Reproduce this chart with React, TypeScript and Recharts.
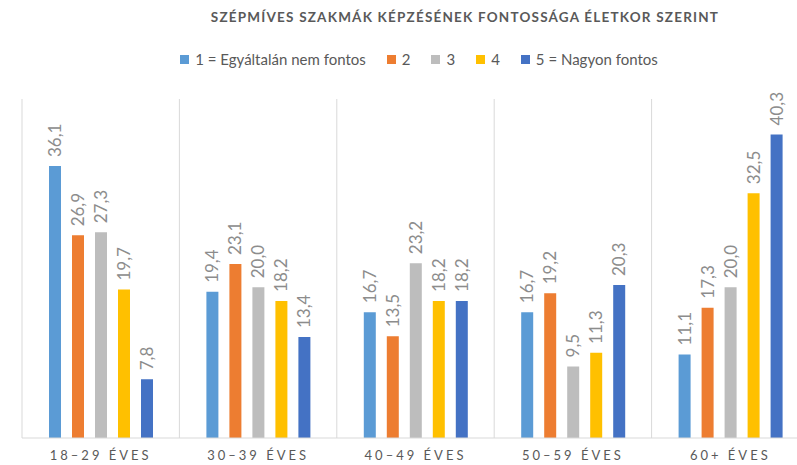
import React from "react"
import { BarChart, Bar, XAxis, YAxis, CartesianGrid, LabelList } from "recharts"

const ageGroups = ["18–29 ÉVES", "30–39 ÉVES", "40–49 ÉVES", "50–59 ÉVES", "60+ ÉVES"]
const ratingNames = ["1 = Egyáltalán nem fontos", "2", "3", "4", "5 = Nagyon fontos"]
const ratingColors = ["#5B9BD5", "#ED7D31", "#BDBDBD", "#FFC000", "#4472C4"]

const rating1 = [36.1, 19.4, 16.7, 16.7, 11.1]
const rating2 = [26.9, 23.1, 13.5, 19.2, 17.3]
const rating3 = [27.3, 20.0, 23.2, 9.5, 20.0]
const rating4 = [19.7, 18.2, 18.2, 11.3, 32.5]
const rating5 = [7.8, 13.4, 18.2, 20.3, 40.3]

const seriesValues = [rating1, rating2, rating3, rating4, rating5]
const seriesKeys = ["r1", "r2", "r3", "r4", "r5"]

const data = ageGroups.map((name, i) => {
  const row: Record<string, string | number> = { name }
  seriesKeys.forEach((k, s) => {
    row[k] = seriesValues[s][i]
  })
  return row
})

const FONT = "Lato, 'Open Sans', sans-serif"

const fmt = (v: number) => v.toFixed(1).replace(".", ",")

function RotatedLabel(props: any) {
  const { x, y, width, value } = props
  const cx = x + width / 2 + 6
  const cy = y - 9
  return (
    <text
      x={cx}
      y={cy}
      transform={`rotate(-90, ${cx}, ${cy})`}
      textAnchor="start"
      fill="#8c8c8c"
      fontSize={17}
      fontFamily={FONT}
    >
      {fmt(value)}
    </text>
  )
}

function AgeTick(props: any) {
  const { x, y, payload } = props
  return (
    <text
      x={x}
      y={y + 14}
      textAnchor="middle"
      fill="#595959"
      fontSize={13}
      letterSpacing={3}
      fontFamily={FONT}
    >
      {payload.value}
    </text>
  )
}

function LegendBox() {
  return (
    <div
      style={{
        position: "absolute",
        top: 50,
        left: 0,
        width: 838,
        display: "flex",
        justifyContent: "center",
        fontFamily: FONT,
        fontSize: 15,
        color: "#595959",
      }}
    >
      {ratingNames.map((n, i) => (
        <span key={n} style={{ display: "inline-flex", alignItems: "center", marginRight: i < 4 ? 21 : 0 }}>
          <span style={{ width: 9, height: 9, background: ratingColors[i], marginRight: 6, display: "inline-block" }} />
          {n}
        </span>
      ))}
    </div>
  )
}

export default function App() {
  return (
    <div style={{ position: "absolute", left: 0, top: 0, width: 797, height: 465, overflow: "hidden", background: "#fff" }}>
      <div
        style={{
          position: "absolute",
          top: 9,
          left: 0,
          width: 930,
          textAlign: "center",
          fontFamily: FONT,
          fontWeight: 700,
          fontSize: 13.5,
          letterSpacing: 1.2,
          color: "#595959",
        }}
      >
        SZÉPMÍVES SZAKMÁK KÉPZÉSÉNEK FONTOSSÁGA ÉLETKOR SZERINT
      </div>
      <LegendBox />
      <div style={{ position: "absolute", left: 0, top: 0 }}>
        <BarChart
          width={812}
          height={465}
          data={data}
          margin={{ top: 99, left: 22, right: 3, bottom: 0 }}
          barSize={12}
          barGap={11}
        >
          <CartesianGrid
            horizontal={false}
            stroke="#d9d9d9"
            verticalCoordinatesGenerator={({ offset }: any) =>
              [0, 1, 2, 3, 4, 5].map((i) => offset.left + (i * offset.width) / 5)
            }
          />
          <XAxis
            dataKey="name"
            height={27}
            axisLine={{ stroke: "#d9d9d9" }}
            tickLine={false}
            tick={<AgeTick />}
            interval={0}
          />
          <YAxis hide domain={[0, 45]} />
          {seriesKeys.map((k, i) => (
            <Bar key={k} dataKey={k} name={ratingNames[i]} fill={ratingColors[i]} isAnimationActive={false}>
              <LabelList dataKey={k} content={<RotatedLabel />} />
            </Bar>
          ))}
        </BarChart>
      </div>
    </div>
  )
}
